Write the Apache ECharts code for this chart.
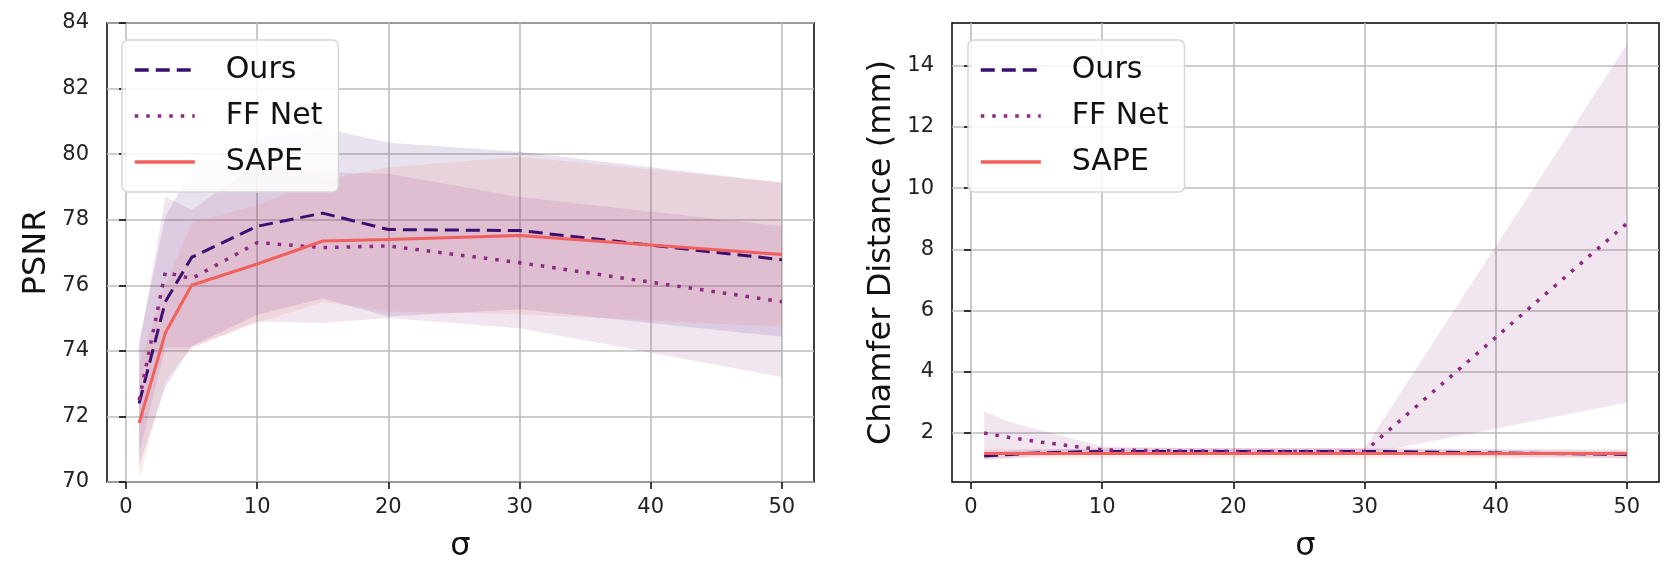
<!DOCTYPE html>
<html>
<head>
<meta charset="utf-8">
<script src="https://cdn.jsdelivr.net/npm/echarts@6/dist/echarts.min.js"></script>
<style>
  html, body { margin: 0; padding: 0; background: #fff; }
  #main { width: 1670px; height: 575px; }
</style>
</head>
<body>
<div id="main"></div>
<script>
// sigma values shared by both panels
const sigmas = [1, 3, 5, 10, 15, 20, 30, 50];
const xTicks = [0, 10, 20, 30, 40, 50];
const cdTicks = [2, 4, 6, 8, 10, 12, 14];

// PSNR panel (mean and std)
const psnrOurs = [72.4, 75.5, 76.85, 77.8, 78.2, 77.7, 77.67, 76.78];
const psnrOursStd = [1.9, 2.6, 2.7, 2.7, 2.6, 2.65, 2.4, 2.35];
const psnrFF = [72.5, 76.4, 76.2, 77.3, 77.15, 77.2, 76.69, 75.5];
const psnrFFStd = [1.6, 2.3, 2.1, 2.4, 2.3, 2.2, 2.0, 2.3];
const psnrSape = [71.8, 74.55, 76.0, 76.65, 77.35, 77.4, 77.52, 76.94];
const psnrSapeStd = [1.75, 1.45, 1.9, 1.8, 1.85, 2.2, 2.4, 2.2];

// Chamfer distance panel (mean and std)
const cdOurs = [1.25, 1.3, 1.35, 1.4, 1.4, 1.4, 1.4, 1.3];
const cdOursStd = [0.12, 0.12, 0.1, 0.1, 0.1, 0.1, 0.1, 0.12];
const cdFF = [2.0, 1.85, 1.72, 1.45, 1.42, 1.4, 1.4, 8.85];
const cdFFStd = [0.7, 0.5, 0.4, 0.12, 0.1, 0.1, 0.1, 5.85];
const cdSape = [1.33, 1.33, 1.33, 1.33, 1.33, 1.33, 1.33, 1.33];
const cdSapeStd = [0.15, 0.15, 0.15, 0.15, 0.15, 0.15, 0.15, 0.15];

const colOurs = '#3b0f70';
const colFF = '#8c2981';
const colSape = '#f1605d';
const font = 'DejaVu Sans';

function pairs(ys) {
  return sigmas.map((s, i) => [s, ys[i]]);
}

function band(idx, mean, std, color) {
  return {
    type: 'custom',
    xAxisIndex: idx,
    yAxisIndex: idx,
    silent: true,
    z: 1,
    data: [[sigmas[0], mean[0]]],
    renderItem: function (params, api) {
      const up = sigmas.map((s, i) => api.coord([s, mean[i] + std[i]]));
      const lo = sigmas.map((s, i) => api.coord([s, mean[i] - std[i]])).reverse();
      return {
        type: 'polygon',
        shape: { points: up.concat(lo) },
        style: { fill: color, opacity: 0.12 }
      };
    }
  };
}

function line(idx, name, ys, color, type, width) {
  return {
    type: 'line',
    name: name,
    xAxisIndex: idx,
    yAxisIndex: idx,
    data: pairs(ys),
    symbol: 'none',
    z: 3,
    lineStyle: { color: color, width: width, type: type },
    itemStyle: { color: color }
  };
}

function xAxis(idx) {
  return {
    type: 'value',
    gridIndex: idx,
    min: -1.45,
    max: 52.45,
    name: 'σ',
    nameLocation: 'middle',
    nameGap: 49,
    nameTextStyle: { fontSize: 32, fontFamily: font, color: '#111' },
    axisLine: { show: false },
    axisTick: { show: true, length: 7, customValues: xTicks, lineStyle: { color: '#000', width: 1.5 } },
    axisLabel: { customValues: xTicks, margin: 15, fontSize: 21, fontFamily: font, color: '#222' },
    splitLine: { show: true, lineStyle: { color: '#bdbdbd', width: 1.6 } }
  };
}

function legend(left) {
  return {
    orient: 'vertical',
    left: left,
    top: 40,
    data: ['Ours', 'FF Net', 'SAPE'],
    itemWidth: 60,
    itemHeight: 20,
    itemGap: 16,
    padding: [15, 16, 15, 11],
    backgroundColor: 'rgba(255,255,255,0.85)',
    borderColor: '#d6d6d6',
    borderWidth: 1.5,
    borderRadius: 6,
    itemStyle: { opacity: 0 },
    lineStyle: { width: 3.5 },
    textStyle: { fontSize: 30, fontFamily: font, color: '#111', padding: [0, 0, 0, 26] }
  };
}

const chart = echarts.init(document.getElementById('main'));
const option = {
  animation: false,
  backgroundColor: '#fff',
  legend: [legend(122), legend(968)],
  grid: [
    { left: 107, top: 23, width: 707, height: 459, show: true, borderColor: '#000', borderWidth: 1.5 },
    { left: 952, top: 23, width: 707, height: 459, show: true, borderColor: '#000', borderWidth: 1.5 }
  ],
  xAxis: [xAxis(0), xAxis(1)],
  yAxis: [
    {
      type: 'value', gridIndex: 0, min: 70, max: 84, interval: 2,
      name: 'PSNR', nameLocation: 'middle', nameGap: 54,
      nameTextStyle: { fontSize: 32, fontFamily: font, color: '#111' },
      axisLine: { show: false },
      axisTick: { show: true, length: 7, lineStyle: { color: '#000', width: 1.5 } },
      axisLabel: { margin: 18, fontSize: 21, fontFamily: font, color: '#222' },
      splitLine: { show: true, lineStyle: { color: '#bdbdbd', width: 1.6 } }
    },
    {
      type: 'value', gridIndex: 1, min: 0.4, max: 15.4,
      name: 'Chamfer Distance (mm)', nameLocation: 'middle', nameGap: 54,
      nameTextStyle: { fontSize: 32, fontFamily: font, color: '#111' },
      axisLine: { show: false },
      axisTick: { show: true, length: 7, customValues: cdTicks, lineStyle: { color: '#000', width: 1.5 } },
      axisLabel: { customValues: cdTicks, margin: 18, fontSize: 21, fontFamily: font, color: '#222' },
      splitLine: { show: true, lineStyle: { color: '#bdbdbd', width: 1.6 } }
    }
  ],
  series: [
    band(0, psnrOurs, psnrOursStd, colOurs),
    band(0, psnrFF, psnrFFStd, colFF),
    band(0, psnrSape, psnrSapeStd, colSape),
    band(1, cdOurs, cdOursStd, colOurs),
    band(1, cdFF, cdFFStd, colFF),
    band(1, cdSape, cdSapeStd, colSape),
    line(0, 'Ours', psnrOurs, colOurs, [14, 7], 3),
    line(0, 'FF Net', psnrFF, colFF, [3.5, 8], 3.5),
    line(0, 'SAPE', psnrSape, colSape, 'solid', 3),
    line(1, 'Ours', cdOurs, colOurs, [14, 7], 3),
    line(1, 'FF Net', cdFF, colFF, [3.5, 8], 3.5),
    line(1, 'SAPE', cdSape, colSape, 'solid', 3)
  ]
};
chart.setOption(option);
</script>
</body>
</html>
